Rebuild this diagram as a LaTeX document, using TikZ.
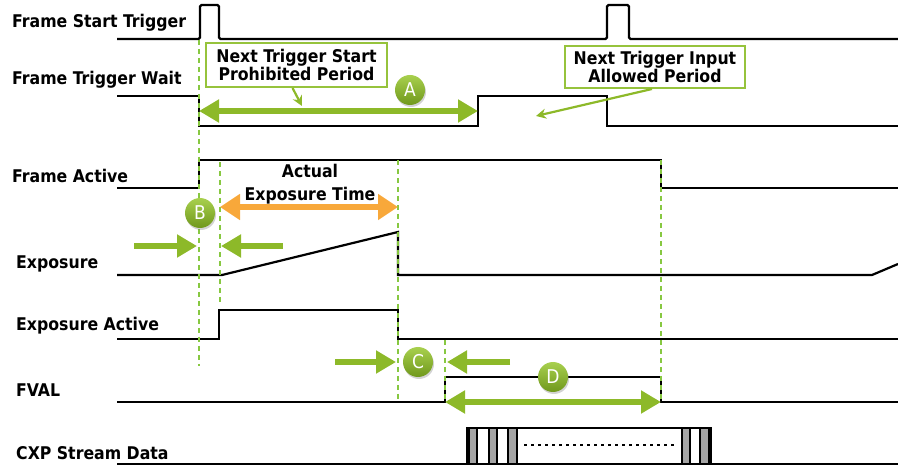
\documentclass[tikz,border=0pt]{standalone}
\usepackage{fontspec}
\setmainfont{DejaVu Sans Condensed}
\usetikzlibrary{arrows.meta,shadows}
\definecolor{grn}{RGB}{141,185,41}
\definecolor{grnbox}{RGB}{150,195,60}
\definecolor{grnlight}{RGB}{168,208,78}
\definecolor{grndark}{RGB}{112,152,28}
\definecolor{dashgrn}{RGB}{135,200,65}
\definecolor{org}{RGB}{248,168,58}
\definecolor{bargray}{RGB}{165,165,165}
\begin{document}
\begin{tikzpicture}[x=1pt,y=-1pt,
  sig/.style={line width=2.2pt,black,line join=miter},
  guide/.style={dashgrn,line width=2pt,dash pattern=on 5pt off 4pt},
  lbl/.style={anchor=west,font=\bfseries\fontsize{17.5}{19}\selectfont,inner sep=0pt},
  bigarrow/.style={grn,line width=6pt,-{Triangle[length=20pt,width=22pt]}},
  bigdarrow/.style={grn,line width=6pt,{Triangle[length=20pt,width=22pt]}-{Triangle[length=20pt,width=22pt]}},
  orgdarrow/.style={org,line width=5.5pt,{Triangle[length=20pt,width=25pt]}-{Triangle[length=20pt,width=25pt]}},
  callarrow/.style={grn,line width=2.2pt,-{Stealth[length=10pt,width=10pt]}},
  circ/.style={circle,minimum size=30pt,inner sep=0pt,top color=grnlight,bottom color=grndark,
    draw=none,drop shadow={opacity=0.35,shadow xshift=1pt,shadow yshift=-2pt},
    text=white,font=\fontsize{19}{19}\selectfont},
  callbox/.style={draw=grnbox,line width=2pt,fill=white,align=center,
    font=\bfseries\fontsize{17.5}{18}\selectfont,inner sep=0pt},
  databar/.style={draw=black,line width=1.6pt,fill=bargray}
]
\useasboundingbox (0,0) rectangle (898,465);

% labels
\node[lbl] (lfst) at (12,23) {Frame Start Trigger};
\node[lbl] (lftw) at (12,80) {Frame Trigger Wait};
\node[lbl] (lfa)  at (12,176) {Frame Active};
\node[lbl] (lexp) at (16,264) {Exposure};
\node[lbl] (lea)  at (16,326) {Exposure Active};
\node[lbl] (lfv)  at (16,390) {FVAL};
\node[lbl] (lcxp) at (16,453) {CXP Stream Data};

% signals
\draw[sig,rounded corners=1.5pt] (117,39) -- (200,39) -- (200,5) -- (219,5) -- (219,39)
  -- (607,39) -- (607,5) -- (629,5) -- (629,39) -- (898,39);
\draw[sig] (117,96) -- (199,96) -- (199,126) -- (478,126) -- (478,96) -- (607,96)
  -- (607,126) -- (898,126);
\draw[sig] (117,188) -- (199,188) -- (199,160) -- (661,160) -- (661,188) -- (898,188);
\draw[sig] (117,275) -- (222,275) -- (398,232) -- (398,275) -- (872,275) -- (898,264);
\draw[sig] (117,339) -- (219,339) -- (219,310) -- (398,310) -- (398,339) -- (898,339);
\draw[sig] (117,402) -- (445,402) -- (445,377) -- (661,377) -- (661,402) -- (898,402);
\draw[sig] (117,464) -- (898,464);

% CXP stream data
\draw[line width=2pt] (467,464) -- (467,428) -- (711,428) -- (711,464);
\draw[databar] (469,428) rectangle (477,464);
\draw[databar] (489,428) rectangle (497,464);
\draw[databar] (508,428) rectangle (517,464);
\draw[databar] (682,428) rectangle (690,464);
\draw[databar] (700,428) rectangle (709,464);
\draw[line width=2.5pt,dash pattern=on 3pt off 4pt] (524,445) -- (676,445);

% guides
\draw[guide] (199,40) -- (199,366);
\draw[guide] (220,162) -- (220,304);
\draw[guide] (398,160) -- (398,402);
\draw[guide] (661,160) -- (661,402);
\draw[guide] (445,340) -- (445,402);

% coordinates for arrows
\coordinate (a1) at (199,111); \coordinate (a2) at (478,111);
\coordinate (b1) at (134,246); \coordinate (b2) at (197,246);
\coordinate (b3) at (283,246); \coordinate (b4) at (221,246);
\coordinate (c1) at (335,362); \coordinate (c2) at (396,362);
\coordinate (c3) at (510,362); \coordinate (c4) at (447,362);
\coordinate (d1) at (445,402); \coordinate (d2) at (661,402);
\coordinate (e1) at (220,207); \coordinate (e2) at (398,207);

\draw[bigdarrow] (a1) -- (a2);
\draw[bigarrow] (b1) -- (b2);
\draw[bigarrow] (b3) -- (b4);
\draw[bigarrow] (c1) -- (c2);
\draw[bigarrow] (c3) -- (c4);
\draw[bigdarrow] (d1) -- (d2);
\draw[orgdarrow] (e1) -- (e2);

\node[font=\bfseries\fontsize{17.5}{23}\selectfont,align=center,inner sep=0pt] (aet) at (310,184) {Actual\\Exposure Time};

% callout boxes
\node[callbox,minimum width=181pt,minimum height=44pt] (box1) at (296.5,65) {Next Trigger Start\\Prohibited Period};
\node[callbox,minimum width=180pt,minimum height=42pt] (box2) at (655,67) {Next Trigger Input\\Allowed Period};
\coordinate (p1) at (302,106);
\coordinate (p2) at (536,116);
\draw[callarrow] ([xshift=-4pt]box1.south) -- (p1);
\draw[callarrow] ([xshift=-3pt]box2.south) -- (p2);

% circles
\node[circ] (cA) at (410,90) {A};
\node[circ] (cB) at (200,213) {B};
\node[circ] (cC) at (418,362) {C};
\node[circ] (cD) at (553,377) {D};
\end{tikzpicture}
\end{document}
